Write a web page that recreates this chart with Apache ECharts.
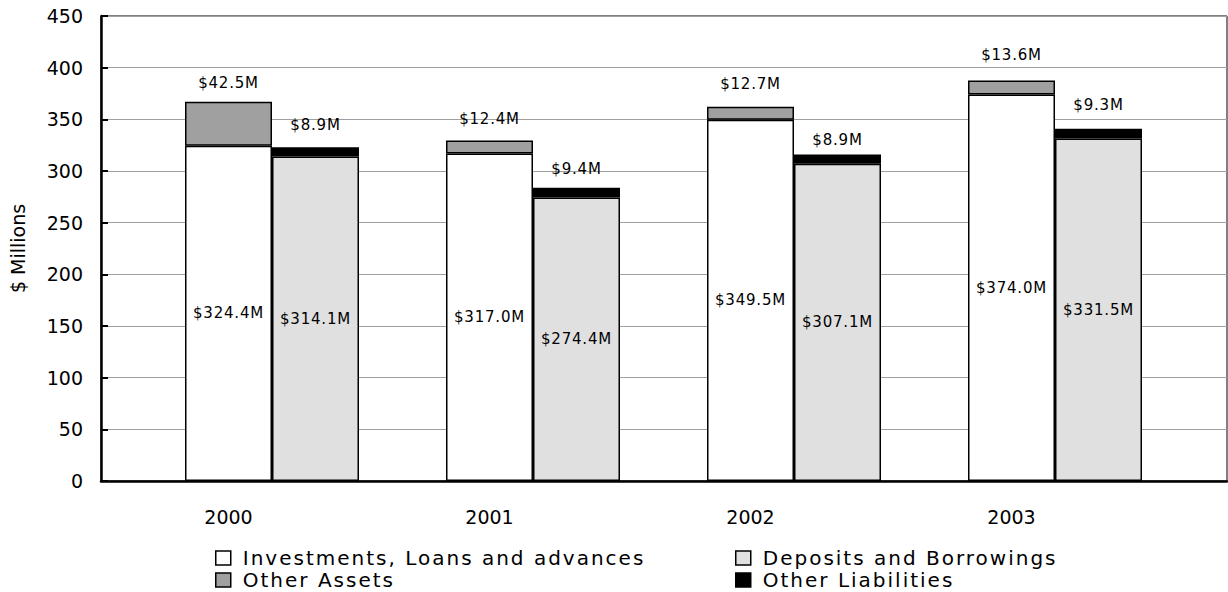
<!DOCTYPE html>
<html>
<head>
<meta charset="utf-8">
<script src="https://cdn.jsdelivr.net/npm/echarts@6/dist/echarts.min.js"></script>
<style>
  html, body { margin: 0; padding: 0; background: #fff; }
  #chart { width: 1228px; height: 592px; }
  /* wide-set lettering for legend entries and value labels */
  #chart text[style*="20px"] { letter-spacing: 2px; }
  #chart text[style*="15px"] { letter-spacing: 0.8px; }
</style>
</head>
<body>
<div id="chart"></div>
<script>
// Balance sheet composition by year, $ millions
const years = ['2000', '2001', '2002', '2003'];
const investments = [324.4, 317.0, 349.5, 374.0];
const otherAssets = [42.5, 12.4, 12.7, 13.6];
const deposits = [314.1, 274.4, 307.1, 331.5];
const otherLiabilities = [8.9, 9.4, 8.9, 9.3];

// vertical gap between the small top segments and their value labels
const otherAssetsLabelGap = [11, 14, 15, 18];
const otherLiabLabelGap = [15, 11, 7, 16];

const FONT = 'DejaVu Sans';
const BORDER = 1.5;
const fmt = p => '$' + p.value.toFixed(1) + 'M';

function withGaps(values, gaps) {
  return values.map((v, i) => ({ value: v, label: { distance: gaps[i] } }));
}

const barBase = {
  type: 'bar',
  xAxisIndex: 1,
  yAxisIndex: 1,
  barWidth: 87,
  barGap: '0%',
  emphasis: { disabled: true }
};

// one legend block per entry, laid out as a 2 x 2 table
function legendEntry(name, left, top) {
  return {
    left: left, top: top, orient: 'vertical', padding: 0,
    itemWidth: 15, itemHeight: 14, icon: 'rect',
    itemStyle: { borderColor: '#000', borderWidth: 1.5 },
    textStyle: { color: '#000', fontSize: 20, fontFamily: FONT, padding: [0, 0, 0, 7] },
    data: [name]
  };
}

const chart = echarts.init(document.getElementById('chart'), null, { renderer: 'svg' });
chart.setOption({
  animation: false,
  backgroundColor: '#fff',
  textStyle: { fontFamily: FONT },
  grid: [
    { left: 98, top: 16, right: 1, bottom: 111, show: true, borderColor: '#000', borderWidth: 1, backgroundColor: 'transparent' },
    { left: 141.5, top: 16, width: 1044, bottom: 111 }
  ],
  xAxis: [
    {
      gridIndex: 0, type: 'value', min: 0, max: 1,
      axisLine: { show: true, lineStyle: { color: '#000', width: 2.5 } },
      axisTick: { show: false }, axisLabel: { show: false }, splitLine: { show: false }
    },
    {
      gridIndex: 1, type: 'category', data: years,
      axisLine: { show: false }, axisTick: { show: false },
      axisLabel: { color: '#000', fontSize: 19, fontFamily: FONT, margin: 26, padding: [0, 87, 0, 0] }
    }
  ],
  yAxis: [
    {
      gridIndex: 0, type: 'value', min: 0, max: 450, interval: 50,
      name: '$ Millions', nameLocation: 'middle', nameGap: 74,
      nameTextStyle: { color: '#000', fontSize: 19, fontFamily: FONT },
      axisLine: { show: true, lineStyle: { color: '#000', width: 2.5 } },
      axisTick: { show: true, inside: true, length: 7, lineStyle: { color: '#000', width: 2 } },
      axisLabel: { color: '#000', fontSize: 19, fontFamily: FONT, margin: 18 },
      splitLine: { show: true, lineStyle: { color: '#a0a0a0', width: 1 } }
    },
    {
      gridIndex: 1, type: 'value', min: 0, max: 450, interval: 50, show: false,
      splitLine: { show: false }
    }
  ],
  legend: [
    legendEntry('Investments, Loans and advances', 215, 548),
    legendEntry('Other Assets', 215, 570),
    legendEntry('Deposits and Borrowings', 735, 548),
    legendEntry('Other Liabilities', 735, 570)
  ],
  series: [
    Object.assign({}, barBase, {
      name: 'Investments, Loans and advances', stack: 'assets',
      data: investments,
      itemStyle: { color: '#ffffff', borderColor: '#000', borderWidth: BORDER },
      label: { show: true, position: 'inside', formatter: fmt, color: '#000', fontSize: 15, fontFamily: FONT }
    }),
    Object.assign({}, barBase, {
      name: 'Other Assets', stack: 'assets',
      data: withGaps(otherAssets, otherAssetsLabelGap),
      itemStyle: { color: '#a0a0a0', borderColor: '#000', borderWidth: BORDER },
      label: { show: true, position: 'top', formatter: fmt, color: '#000', fontSize: 15, fontFamily: FONT }
    }),
    Object.assign({}, barBase, {
      name: 'Deposits and Borrowings', stack: 'liabilities',
      data: deposits,
      itemStyle: { color: '#e0e0e0', borderColor: '#000', borderWidth: BORDER },
      label: { show: true, position: 'inside', formatter: fmt, color: '#000', fontSize: 15, fontFamily: FONT }
    }),
    Object.assign({}, barBase, {
      name: 'Other Liabilities', stack: 'liabilities',
      data: withGaps(otherLiabilities, otherLiabLabelGap),
      itemStyle: { color: '#000000', borderColor: '#000', borderWidth: BORDER },
      label: { show: true, position: 'top', formatter: fmt, color: '#000', fontSize: 15, fontFamily: FONT }
    })
  ]
});
</script>
</body>
</html>
